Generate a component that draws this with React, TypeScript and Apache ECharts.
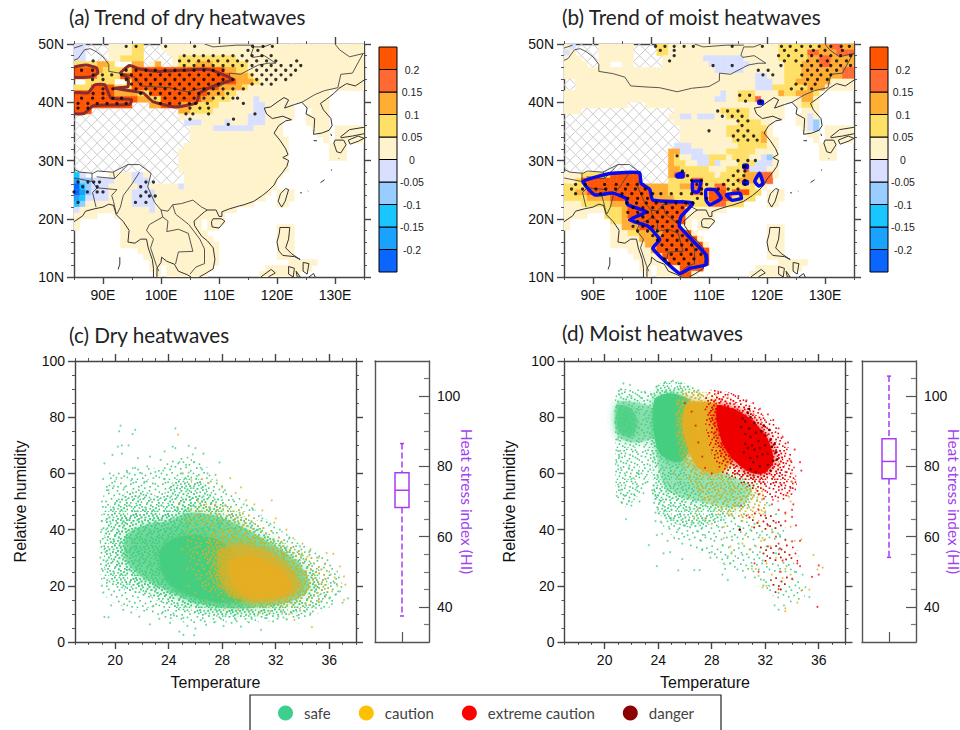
import React, { useEffect, useRef } from "react";
import * as echarts from "echarts";

const binCodes = ["e", "d", "c", "b", "a", "p", "q", "r", "s", "t"];
const binColors = ["#0A66FF", "#19A3FF", "#1AC6FF", "#99CCFF", "#D9E0FF", "#FFF3CC", "#FFE066", "#FFAD33", "#FF6A33", "#FF5500"];
const binLows = [-0.25, -0.2, -0.15, -0.1, -0.05, 0, 0.05, 0.1, 0.15, 0.2];
const colorbarTicks = [-0.2, -0.15, -0.1, -0.05, 0, 0.05, 0.1, 0.15, 0.2];

const rowsA = ["2a4x4p2q3x35p","2a4x4p2q4x34p","2a2.2x2p4q3x2x1p10q22p","4q2r1q3.2r1x1p1r2x1p3q3r6q20p","4t1r5q16t2r2q20p","3t1s1q3q19t3r1q19p","2.2q3q2.1q18t3r1q18p","3q4t3q15t4r1q20p","7t4r2q10t3r2q16p6.","11t2r2q7t2r3q4p1a12p6.","10t3x2r3t2r5q6p2a5p2.4p6.","3t15x2r1q3q7p2a5p3.3p6.","18x12p3a5p2.4p6.","19x3a4p1a3p3a3p4.4p6.","20x4p7a5p5.3p1.5p","20x16p6.2p1.5p","20x17p6.1p1.5p","19x18p7.3p3.","18x19p7.3p3.","18x19p7.3p3.","18x19p13.","18x19p13.","1c1a4.4p2a1p6x17p14.","1d2b4a3p3a5x1.16p15.","1e1c1b3a5p2a5p1a16p15.","1e1d1b3a4p4a20p1.3p12.","1d1c1a3a4p4a19p2.3p12.","1c1b8p4a17p4.2p13.","1a12p1a14p22.","4p3.19p24.","1p7.14p1.3p24.","1p7.14p1.2p10.3p12.","8.15p12.3p12.","8.16p11.3p12.","8.17p10.3p12.","11.14p10.3p12.","12.13p10.3p12.","13.12p12.5p8.","13.2p1.8p9.8p9.","14.1p1.7p9.7p11."];
const rowsB = ["1p1a4x6p4x2q19p7q2r2s2r","1a1p4x6p4x2q19p5q2s3r3s","3p3x6p5x7p7a6p5q2r2s4r","4p2x2p2.2p5x8p7a6p3q3r2s4r","26p5a7p3q7r2s","33p2a3p3q7r2s","2x31p3a2p2q6r4p","2x31p3a6q3r5p","27p1a2p3q4p1r2q3r1q6.","26p2a2p3q1s7p2r1p6.","11p3x24p2.1p2q1p6.","3p16x8p5q6p3.3p6.","18x2p2a1p3a2p4q6p2.2p1a1p6.","19x11p4q2p4.2p1a1b6.","20x8p7q1p5.1p1a1b1.5p","20x8p6q1r1p6.2p1.5p","20x9p5q1r2p6.1p1.5p","19x3a8p5q2p7.3p3.","18x2r4a4p5q4p7.3p3.","18x1r1q2p3a3q1p3q2p1a1b1p7.3p3.","18x1r2q2p2a1q1a3p3q3a1p13.","18x2r3q2q3p3q1s3a2p13.","3p5q5t5x1r2s5q1p4q3r2s1p13.","2p1q10t5x4q2s6q3r1q2s14.","4q10t4r2q2r2s2q2s5q2p15.","2q2r11t3r4q2s1q3t1q3t2q1.3p12.","4q4r7t4r6q4t4q2.3p12.","3p5q3r11t3q3s3q4.2p13.","7p3q1r10t7p22.","4p3.3q1r10t5p24.","1p7.2q2r9t1p1.3p24.","1p7.2p3r7t2p1.2p10.3p12.","8.3p2q4r5t1p12.3p12.","8.5p3r7t1p11.3p12.","8.6p2r8t1p10.3p12.","11.4p1r9t10.3p12.","12.5p8t10.3p12.","13.5p7t12.5p8.","13.2p1.4p4t9.8p9.","14.1p1.4p2t1p9.7p11."];

const stippleA: [number, number[]][] = [
  [49.6,[94,95.7,100.8,105.8,115.8,117.6,119.2]],[48.9,[115,116.7]],
  [48,[104,105.7,107.3,109,110.7,112.4,114,115.7,117.4,119]],
  [47.1,[88.3,103.2,104.8,106.5,108.2,109.8,111.5,113.2,114.8,116.5,118.2,119.8,123.4]],
  [46.3,[104,105.7,107.3,109,110.7,112.4,114,115.7,117.4,119,120.7,122.4,124.1]],
  [45.5,[86.3,88.2,94,95.7,97.4,99,100.7,102.4,104,105.7,107.4,109,110.7,116.5,118.2,119.8,121.5,123.2]],
  [44.7,[88.3,89.9,91.5,93.2,94.9,96.5,98.2,99.9,101.5,103.2,104.9,106.5,108.2,109.9,115.7,117.4,119,120.7,122.4]],
  [43.9,[88.2,90,94,95.7,97.4,99,100.7,102.4,104,105.7,107.4,109,110.7,112.4,116.5,118.2,119.8,121.5]],
  [43.1,[94.9,96.5,98.2,99.9,101.5,103.2,104.9,106.5,108.2,109.9,115.7,117.4,119]],
  [42.3,[90,91.7,95.7,97.4,99,100.7,102.4,104,105.7,107.4,109,110.7,112.4,114.2]],
  [41.5,[88.3,90,96.5,98.2,99.9,101.5,103.2,104.9,106.5,108.2,109.9,111.5]],
  [40.7,[86.3,88.2,90,91.7,93.2,99,100.7,102.4,104,105.7,107.4,109,110.7,112.4,113.2]],
  [39.8,[85.7,87.4,89,90.7,92.4,94,99.9,101.5,103.2,104.9,106,108,114.2]],
  [39,[85.7,87.4,105,106.7,108.2]],[38,[104.3,105.5,108.2,116.2]],[37.1,[105,112.5]],[36.2,[111.6]],
  [26.3,[85.7,87.4,88.4,89.4,97.4,98.7]],[25.5,[86.5,89,96.5]],[24.6,[85,87.3,89,90,97.4]],
  [23.9,[96.5,98,99]],[22.8,[85.7,95.6,97.4]],
];
const stippleB: [number, number[]][] = [
  [49.6,[100.8,102.4,104,105.7,107.3,114,119.2,122.5,124,126,127.5,129,131,132.8,134.2]],
  [48.9,[101.6,104,123,125,128,130,133]],[48,[104,122,123.7,126,127.7,129.3,131,132.7,134.4]],
  [47.1,[103.2,123,125,127,128.7,130.4,132,133.7]],
  [46.3,[110.7,114,122.4,126,127.7,129.3,131,132.7,134.4]],
  [45.5,[118.5,120.2,127,128.7,130.4,132]],[44.7,[119.3,121,126,127.7,129.3,131]],
  [43.9,[127,128.7,130.4]],[43.1,[125,126.6,128.3]],[42.3,[124.2,126,127.7]],
  [41.2,[115.3,117]],[40.2,[116.3,118.9]],[38.5,[111.5,113.2,115]],[37.6,[112.3,114,115.7]],
  [36.8,[115,116.7]],[36,[115.7]],[35.1,[110,115,116.7]],[34.2,[114.2,116,117.7]],[33.5,[115,116.7,118.3]],
  [30.8,[104.5]],[30,[115,116.7,118]],[29,[116,116.3]],[28.2,[105.4,115,116.2]],[27.4,[106.3,114.2,116]],
  [26.6,[107,108.7,113.3,115,116.2]],[25.9,[87,88.7,92,94,96,97.6,107.9,109.6,112.5,114.2,116.2]],
  [25.1,[86.3,88.2,90.5,92.2,93.9,95.6,97.3,99,108.7,111.6,113.3,115]],
  [24.3,[87,91.3,95,96.7,98.4,100.3,101.7,103.5,105.2,107,108.7]],
  [23.5,[96,97.7,99.4,108,109.6]],[22.7,[95.8,97.5,99.2,100.9,102.6,104.3,106,107.2]],
  [21.9,[96.9,98.6,100.3,102,103.7,105.4]],[21.1,[96,97.7,99.4,101.1,102.8,104.5]],
  [20.3,[98.6,100.3,102,103.7]],[19.5,[97.7,99.4,101.1,102.8,104.5]],[18.7,[96.9,98.6,100.3,102,103.7]],
  [17.9,[97.7,99.4,101.1,102.8,104.5]],[17.1,[100.3,102,103.7,105.4]],[16.3,[101.1,102.8,104.5,106.2]],
  [15.5,[101.9,103.6,105.3,107]],[14.7,[102.7,104.4,106.1,107.8]],[13.9,[103.5,105.2,106.9,108.6]],
  [13.1,[102.3,104,105.7,107.4]],[12.3,[103.1,104.8,106.5]],
];

const contoursA = [
  [[85,46],[87.1,46.4],[88.9,45.9],[89.1,45],[88,44.4],[85,44.3]],
  [[85,41.6],[87.4,41.6],[88.6,43],[90.3,43],[91.4,40.7],[94.9,40.5],[94.6,39.6],[88.3,39.4],[86.8,38.1],[85,38.1]],
  [[93,45],[94.6,46.3],[96.3,45.7],[99.8,45.3],[105.5,45.6],[108.4,45.6],[112.4,43.9],[109.5,43],[106.7,41.6],[106.1,39.9],[102.4,39.2],[98.6,40.1],[96.9,41.6],[92,42.4],[94.3,42.7],[94.3,44.2]],
];
const contoursB = [
  [[88.3,26.4],[93.2,27.8],[98,27.9],[98.3,26.1],[99.8,25],[100.3,23.2],[107.2,22.7],[105.2,20.4],[104.9,18.7],[109.5,13.8],[109.5,12.1],[106.7,11.5],[104.9,10.6],[100.3,14.9],[101.5,16.4],[99.5,18.7],[96.3,19.8],[99.2,21.2],[96,22.4],[95.7,23.5],[93.4,24.4],[90.3,24.1]],
  [[104.4,27.5],[105.5,27.9],[105.5,27.2],[104.5,27.2]],
  [[107.2,26.4],[108.6,26.4],[108.1,24.6],[107.2,24.7]],
  [[109.5,25],[111,25],[112.1,23.5],[110.1,22.4],[109.5,23.2]],
  [[113,24.1],[115.3,24.4],[115.6,23.5],[113.9,23.2]],
  [[118.7,27.8],[119.3,26.1],[118.6,25.6],[117.9,26.4]],
  [[116,29.2],[116.6,29.2],[116.6,28.8],[116,28.8]],
  [[116,26.4],[116.6,26.4],[116.6,26],[116,26]],
  [[118.6,40.2],[119.2,40.2],[119.2,39.8],[118.6,39.8]],
];

const coastlines = [
  [[85,19.5],[86.5,20.5],[87,21.3],[88.5,21.7],[90,22],[91,22.5],[91.8,22.3],[92.3,20.7],[93.5,19.5],[94.5,18],[94.3,16],[95.5,15.8],[96.5,16.5],[97.5,16.5],[97.8,15],[98.5,13],[98.7,11.5],[98.7,10]],
  [[99.3,10],[99.3,11.5],[100,12.5],[100.1,13.4],[101,12.7],[102.3,12.2],[103,11],[104.5,10.4],[105.2,10]],
  [[106.6,10],[107.5,10.5],[109,11.4],[109.3,13],[109,15],[108,16.2],[107,17],[105.8,18.8],[105.7,19.6],[106.7,20.5],[107.5,21.2],[108,21.5],[109.5,21.5],[110,20.4],[110.5,20.4],[110.5,21.2],[111.8,21.7],[113.5,22.2],[114.3,22.4],[116,23],[117.5,24],[118.5,24.8],[119.5,25.8],[120,26.8],[121,28],[121.7,29],[122,30],[121,30.5],[121.9,31],[121.5,32],[120.5,33.5],[119.5,34.7],[120.3,36],[121.5,36.8],[122.5,37],[121,37.6],[119.2,37.2],[118.2,38],[117.8,39],[118.9,39.2],[120,40],[121.2,40.8],[122,40.4],[121.3,39],[123,39.6],[124.3,40],[125.2,39],[125,38],[126.5,37.2],[126.4,35.5],[126.3,34.5],[127.7,34.7],[129,35.2],[129.5,36],[129.3,37.2],[128,38.7],[127.5,39.8],[128.5,40.5],[129.8,41.5],[130.7,42.4],[132,43.2],[133.5,42.8],[135,43.8]],
  [[130.9,34],[132.5,35.3],[135,35.7]],[[135,34.6],[133,34.2],[131,33.9]],
  [[130,33.5],[131.5,33.5],[131.9,32.7],[131,31.3],[130.3,31.5],[129.8,33],[130,33.5]],
  [[132.3,33.5],[134,34.2],[135,33.8],[134,33.3],[132.6,32.8],[132.3,33.5]],
  [[121.5,25.2],[122,25],[121.4,23],[120.8,22],[120.2,23],[120.6,24.3],[121.5,25.2]],
  [[109,20],[110.4,20],[111,19.6],[110,18.4],[108.8,18.6],[108.7,19.5],[109,20]],
  [[120.5,18.5],[122.2,18.5],[122,16.5],[121.5,15],[122.5,14],[124,13],[123,13.5],[121,13.7],[120.3,14.5],[120,16],[120.4,17.5],[120.5,18.5]],
  [[122,11.8],[123,11.5],[122.8,10],[122,10.5],[122,11.8]],[[124.5,12.5],[125.5,12.3],[125.2,10.5],[124.5,11],[124.5,12.5]],
  [[123.3,11],[124,10],[123.5,10],[123.3,11]],[[117.2,10],[119,11.3],[119.7,10.7],[118.5,10]],[[125.5,10],[126.3,10.6],[126.6,10]],
  [[126.3,33.4],[126.9,33.4]],[[129.3,34.6],[129.4,34.2]],[[127.5,26.2],[128.2,26.7]],[[124,24.5],[124.3,24.4]],[[125.3,24.8],[125.4,24.7]],[[129.3,28.3],[129.5,28.4]],[[130.6,30.4],[130.7,30.3]],
  [[92.9,13.4],[92.9,12.2],[92.6,11.3]],
];
const borders = [
  [[85,47.2],[85.7,47.5],[86.8,49],[87.8,49.2],[88.8,48.7],[90,47.8],[91,46.5],[91,45.3],[93.5,44.9],[95.5,44.3],[96.5,42.8],[99.5,42.6],[101.5,42.5],[104.5,41.8],[107,42.4],[110,42.7],[111.8,43.7],[111.8,45],[113.7,44.8],[116,46],[116.8,46.4],[118.5,46.7],[119.8,46.7],[117.8,48],[115.8,47.7],[115.5,48.1],[116,49.5],[117.7,49.5],[119,50]],
  [[107.5,50],[109,49.5],[113,49.8],[116,49.8]],[[85,49.3],[86.5,49.8]],
  [[124.3,40],[126.5,41.3],[128.2,42],[130.5,42.5],[131,44.8],[133,45],[134.8,48.3]],[[135,48.4],[132.5,47.8],[130.8,49],[130,50]],
  [[85,28.5],[86,28],[88.3,27.8],[89,28.2],[91.7,28],[94.3,29.3],[96.3,29.3],[98.3,27.8],[97.7,25.5],[98.9,22.8],[100,21.5],[101.2,21.3],[102,22.4],[103.5,22.6],[105.5,23.2],[107,22],[108,21.5]],
  [[85,27],[88.1,26.4],[88.1,27.8]],[[88.9,27.2],[92,26.9],[91.8,28]],[[94.3,29.3],[92,26.9]],
  [[88.1,26.4],[89,25.3],[88.2,24.5],[88.8,22]],[[89,25.3],[92.4,25],[91.5,24],[91.8,23],[92.3,20.8]],
  [[96.3,28],[95,26],[93.5,24],[93,22],[92.4,20.8]],
  [[100,21.5],[100.3,20.3],[98,19],[97.5,18],[98.7,16.5],[98.2,15],[99.2,12],[99.6,11]],
  [[100.3,20.3],[101.2,19.6],[101,17.8],[103,18.2],[104.7,17.5],[105.5,14.4],[103,14.3],[102.5,12.2]],
  [[102,22.4],[102.5,20.8],[104.8,19],[106.7,16.5],[107.5,14.8],[107.5,12.3],[106,11.7],[105,10.5]],
];

/* Outlines of the saturated parts of the clouds */
const densityCGreen = [
  [[19,47],[19.5,58],[21,62],[23,62],[25,66],[26.5,64],[28,56],[30,49],[32,41],[34,35],[36,30],[37,20],[36.5,14],[34.5,9],[32,7.5],[28,7],[25,7],[22,11],[19.5,15],[18.9,25]],
  [[19.4,46],[20.4,52],[21.8,54],[23.4,52],[24.6,58],[26.2,58],[27.5,52],[29,47],[30.5,42],[32,37],[33.5,33],[35,27],[36,20],[35.5,14],[34,11],[32,9.5],[30,9],[28,9],[26,10],[24,13],[22,17],[20.5,19],[19.3,24],[19.2,35]],
  [[20,42],[21.5,47],[24,47],[25.5,52],[27.5,49],[29.5,44],[31,39],[33,33],[34.5,27],[35.3,19],[33.8,13],[31,11],[28.5,10.5],[26,12],[24,15],[22,19],[20.2,25]],
  [[20.8,38],[22.5,42],[24,43],[25.5,46],[27.5,45],[29.5,41],[31,37],[33,31],[34.2,25],[34.5,19],[33.2,14.5],[31,12.5],[28.5,12],[26,14],[24,18],[22,23],[20.8,29]],
  [[23.4,33],[24.5,37],[26,38],[27.8,36],[29,31],[30,24],[30,15.5],[28,14],[26.2,15.5],[24.5,19],[23.5,25]],
];
const densityCOrange = [
  [[25.3,44],[26.5,50],[29,48],[31,42],[33,35],[35,29],[36,19],[34.3,13],[31.5,12],[29.5,13],[27,17],[25.6,28]],
  [[27,38],[29.5,40],[31,37],[33,31],[34.6,23],[33.8,15],[31,13.5],[29,15],[27.2,22]],
  [[27.8,33],[29.6,35],[31.4,32.5],[33.2,26],[33.8,19],[32.4,15],[30,14.5],[28.4,17.5],[27.7,25]],
  [[28.7,29],[30,30.5],[31.6,28],[32.9,23],[33,18],[31.8,16],[30,16],[29,19],[28.5,25]],
];
const densityDGreen = [
  [[23.7,60],[23.8,46],[25,38],[27,32],[30,25],[32,18],[34,14],[35,17],[34,30],[33,45],[31,56],[28,62]],
  [[20.9,89],[22.2,90],[23.7,88],[23.8,70],[23.5,60],[22.8,54],[21.6,48],[20.9,52],[20.8,70]],
  [[20.9,85],[22,85.5],[23.6,83],[23.7,73],[22,71],[20.9,74]],
  [[21,84],[22,83],[22.4,78],[22,73],[21,75]],
  [[23.7,90],[25,93],[26.5,91],[28.5,84],[30.5,72],[31.5,58],[30.5,48],[28,42],[26,41],[24,46],[23.6,60]],
  [[24,72],[26,66],[29,60],[31,55],[30,48],[27,50],[24.5,55]],
  [[23.7,86],[25,88.5],[26.5,85],[26.5,70],[25.6,64],[24,68]],
];
const densityDOrange = [
  [[25.5,88],[27,89],[28.5,87],[29.5,70],[31.5,58],[32,46],[30,44],[27.5,50],[26,60],[25.4,72]],
  [[26.2,85],[27.3,85.5],[28.5,84],[28.6,72],[29.5,65],[28.5,60],[27,62],[26.3,68],[25.8,78]],
];
const densityDRed = [
  [[31,52],[33,44],[34.5,30],[33,16],[32,28],[31,40],[30.5,48]],
  [[27.6,89],[29.5,88.5],[31.2,84],[33,76],[34,66],[34.3,54],[33,50],[31.5,53],[30,57],[28.5,61],[27.6,75]],
  [[28,87],[29.5,86],[31,82],[32.5,74],[33.3,66],[33.4,58],[32,56],[30.5,58],[29,63],[28,75]],
  [[28.4,84],[29.6,83],[31,79],[32.2,72],[32.6,64],[31.8,60],[30.8,60.5],[29.6,65],[28.7,72]],
];

/* Irregular dots of one tile of the speckle fills, hand-placed */
const speckleDots = [[3,5],[11,2],[19,7],[27,1],[36,4],[44,8],[7,12],[15,14],[24,11],[31,15],[40,13],[46,17],[2,20],[10,23],[18,19],[26,22],[34,20],[43,24],[6,29],[14,31],[22,27],[30,30],[38,28],[45,33],[1,37],[9,39],[17,36],[25,40],[33,37],[41,41],[5,45],[13,46],[21,44],[29,47],[37,44],[46,43],[7,3],[15,9],[23,3],[32,9],[40,2],[1,11],[11,17],[20,13],[28,18],[36,11],[43,15],[5,24],[14,25],[22,21],[31,25],[39,22],[47,27],[3,33],[11,34],[19,32],[27,35],[35,32],[42,36],[7,42],[16,41],[24,46],[32,42],[39,47],[45,38],[9,7],[17,3],[25,7],[34,1],[42,5],[4,15],[13,11],[21,16],[29,12],[38,16],[45,11],[0,26],[8,27],[16,23],[24,25],[33,28],[41,19],[4,39],[12,37],[20,39],[28,33],[36,39],[44,29],[9,46],[18,47],[26,43],[35,46],[43,46],[47,2],[2,8],[30,5],[38,8],[12,5],[6,18],[17,28]];

const boxC = [37.4, 68.3, 73.2, 78.2, 86.5];
const boxD = [54.1, 76.5, 81.4, 87.9, 105.7];
const legendNames = ["safe", "caution", "extreme caution", "danger"];
const seriesColors = ["#46CE80", "#E6AE20", "#EE0000", "#7A0000"];
const legendColors = ["#3CCF8E", "#FFC000", "#FF0000", "#8B0000"];

const safeC = [[20.4,77],[20.3,75],[21.5,75.5],[21.3,74],[24.5,76],[20.5,70],[21,70],[20.2,69.5],[19.8,66.6],[19.2,63.6],[20.5,67],[21.7,65.4],[22.6,66],[23.4,64.8],[24.3,69.5],[24.5,69],[25.5,69.8],[26,69],[23.7,67.8],[26.6,67],[25.8,66.8],[27.8,63.9],[27.5,59.5],[19.1,58],[19.6,60],[20.1,58.5],[20.9,60.4],[21.5,62],[22,60],[22.4,62.5],[23,60.5],[23.6,61],[24.2,62.5],[24.8,64],[25.3,63],[25.9,64],[26.4,62],[26.9,60],[24.9,60],[25.5,60.3],[26.1,59],[21.2,57.5],[22.2,57],[19.5,54],[19,50],[19.3,48],[19.9,55.5],[20.7,55],[23,56.3],[23.7,58],[28.2,54],[28.8,50.7],[29.6,49],[30.3,47],[31,44],[31.6,42],[32.3,40],[33,36.8],[33.8,34],[34.5,32],[35.1,30],[35.6,26.5],[36.1,24],[36.4,21],[36.8,18],[37.4,15.5],[37,14],[36.2,13.5],[35.4,12],[34.6,10.3],[33.6,9.4],[32.8,8.1],[31.8,7.3],[30.9,4.3],[30,7],[29.4,5.5],[28.7,6.8],[28.1,5.7],[27.4,7],[26.8,6.1],[26,4.8],[25.4,5.7],[24.8,3.7],[25.1,2.5],[25.9,2.4],[24.1,6.8],[23.3,8.2],[22.6,6.3],[21.8,9],[21.2,10.5],[20.6,11.4],[19.5,8.8],[19.2,8.9],[19.7,13],[19.1,17.6],[19,20],[19.4,22],[19,26],[18.9,30],[19.2,33],[18.9,36],[19,40],[19,43],[22.8,12.7],[23.5,10.2],[24.4,9.5],[25.1,8.6],[26.4,7.8],[27.9,8.2],[29,8],[30.2,8.2],[31.2,8.5],[32.2,9],[33.2,10.2],[34.2,10.8],[35,12.1],[36,15.5],[36.5,17],[33.9,31],[32.8,33.6],[31.8,38.8],[30.7,40.1],[29.3,46],[28,50.5]];
const cautionC = [[24.7,73.8],[31.7,50.4],[31.9,42.5],[36.3,31.4],[35.8,31.6],[36.8,26.9],[37.1,23.3],[37.2,20.4],[37.1,15],[34.7,5.3],[33.4,7.9],[28.6,58.3],[29.4,55],[25,60],[25.7,57.5],[26.5,58],[27,56.5],[27.6,57.5],[28,55],[29,53],[29.8,50.5],[30.4,49],[31,46.8],[32,44],[32.8,40],[33.3,37],[34,35],[34.6,33],[35.2,30],[35.7,28],[36,25],[36.4,23],[36.6,20],[36.2,18],[35.7,16],[35.2,14.5],[34.5,13],[33.8,11.8],[33,9.8],[32.5,10.6],[31.6,11],[30.8,10.4],[30,10.7],[29.2,11.5],[28.2,12],[27.5,13.6],[26.8,15],[26,17.5],[25.5,20],[25.4,26],[25,33],[24.9,38],[25.2,43],[25.5,47],[26.2,50],[26.8,49],[27.5,49],[24.8,49]];
const safeD = [[21.4,92],[21.9,91.5],[21.2,90],[21.1,88],[22,87.5],[23,89],[23.5,88],[22.7,87],[20.9,84],[20.8,78],[21,72],[21,68],[21.1,66],[20.9,64],[21.2,62],[21.5,60],[21.8,62],[22,58],[22.5,60],[21,56],[21.2,54],[20.9,52],[21.5,52],[22.2,52.5],[21.8,50],[21.3,49.5],[22,48.5],[22.6,50],[22.9,53],[21.6,43.7],[22.4,55],[23.2,57],[23.6,54],[23.8,52],[24.1,50.5],[23.7,49.5],[23.8,46],[23.8,43],[24.2,42.8],[24.8,41],[25,44],[25.5,40],[25.9,41.5],[26.2,38],[26.9,39.5],[27.2,36],[27.5,38],[24.9,32],[23.3,34.5],[24.4,31.5],[23.9,27],[25.8,29.5],[25.5,25.5],[26.7,25.6],[27.1,25.6],[27.9,30],[28,32],[28.9,28],[29,26],[29.4,28],[28.8,24],[29.2,22],[30,35],[30.3,31],[31,27],[30.5,23],[31.9,22],[32.3,20],[33,17.5],[32.7,13],[33,11.5],[33.4,13],[33.6,27],[34.2,25],[34.8,24],[35,19.5],[35.3,16],[28.2,36],[28.8,34.5],[29.5,37.5],[31.6,32],[31.8,29],[32.1,34],[32.8,31.5],[30.1,41],[30.9,40],[29.7,44],[28.2,47],[27.5,43],[26,47],[25,47],[24.5,46.8],[23.9,91],[24.5,92.5],[25.1,93],[25.7,92],[26.2,91],[27,89.5],[27.6,87],[24,89.5],[24.6,89],[25.5,90],[31.2,42],[31.6,38],[30.3,44.5],[30.8,48],[31.4,50.5],[32,46],[32.5,40],[33.1,38],[33,33],[28.5,41],[28.9,43.5],[27.3,40.7],[26.5,42.5],[25.8,35],[27.3,33],[29.2,30.5],[23.9,38],[24.3,38.5],[24.7,36],[25.2,37]];
const cautionD = [[25.2,60],[25.7,58],[26.3,52],[26.7,44.5],[27.5,44],[28,42],[28.9,41],[29.5,45],[30.3,43],[31,41],[31.5,43],[32,46.5],[32.5,39],[31.8,37],[30.5,38],[30.3,35],[30.9,33],[31.3,34],[31.7,36],[32,36.5],[32.4,34],[32.8,30],[33.2,25],[33.5,26],[33.9,24],[33.3,22.7],[32.5,24],[32.1,28],[31,26],[31.3,26],[31.5,23.5],[32.1,20],[31.8,19.4],[33.5,12],[33.5,11],[34.4,14],[34.7,18.3],[35.3,18.6],[36.3,26.5],[35.9,25.8],[35.6,31],[34.2,36],[34.7,36.5],[33.9,41],[33.5,45.5],[33.9,50],[33.7,52],[34,57],[34,60],[33,64],[27,88],[27.8,88.5],[28.3,88],[29.2,87],[25.8,90],[26.7,89],[28.5,45.5],[28.9,37],[29.4,34],[29.5,32],[27,47.5],[27.5,50.5]];
const extremeD = [[28.5,89],[29.2,88],[30,87.5],[30.6,86],[31.1,85],[31.6,83],[32.2,81],[32.6,79],[33,76],[33.3,73],[33.7,71],[34.2,68.5],[34.6,64],[34.7,61],[33.9,64.5],[33.5,60.5],[33.2,56],[33.9,54.8],[34.1,49],[34,47],[33.5,46],[33,47],[32.5,49],[31.9,51],[31.5,52.5],[32,45],[32.2,41.5],[32.8,42.5],[33.5,43],[34,44.5],[34.3,41.5],[34.6,36],[34,35.8],[33.5,36.3],[33,35],[33.1,33.3],[33.3,29],[34.4,28],[34.6,27],[34,22.5],[33.1,25],[33,18.8],[35.9,12.5],[36,27.3],[36,24],[35.5,23.2],[31.2,28],[31.5,25],[32.2,34],[32.8,37.5],[31.5,47],[30.6,45],[30.2,48.5],[28,60],[27.5,62],[27.3,66],[27,71],[26.8,77],[26.5,82],[26,85]];
const dangerD = [[30.8,83],[30.3,79.5],[30.5,78.5],[30.9,80],[31.2,78],[30.8,76],[30.5,74],[30.9,73],[31.3,74.5],[31.7,75],[32,73.5],[32.4,72],[31.5,71.5],[31,70],[30.5,70.5],[30.7,69],[31.2,68.5],[31.6,69],[32,70],[32.2,67],[32.6,64.5],[31.4,66],[30.9,65.5],[31.1,64],[31.6,62.5],[30.9,61.5],[32.2,63],[32.5,69.5],[32.7,70.5],[30.1,40],[31.9,77],[32.3,75.5],[32.8,67.5],[32.9,65],[30.2,76.5],[30.4,67.5],[31.8,66.8],[32.4,61],[31.3,60.5],[30.7,81.5]];

const LON = [85, 135], LAT = [10, 50];
const lonMajor = [90, 100, 110, 120, 130];
const lonMinor = [85, 90, 95, 100, 105, 110, 115, 120, 125, 130, 135];
const latMajor = [10, 20, 30, 40, 50];
const latMinor = [10,12,14,16,18,20,22,24,26,28,30,32,34,36,38,40,42,44,46,48,50];
const tMajor = [20, 24, 28, 32, 36];
const tMinor = [17,18,19,20,21,22,23,24,25,26,27,28,29,30,31,32,33,34,35,36,37,38];
const rhMajor = [0, 20, 40, 60, 80, 100];
const rhMinor = [0,5,10,15,20,25,30,35,40,45,50,55,60,65,70,75,80,85,90,95,100];
const hiMajor = [40, 60, 80, 100];
const hiMinor = [35,45,50,55,65,70,75,85,90,95,105];

const parseRow = (s: string) => {
  const out: string[] = [];
  for (const m of s.matchAll(/(\d+)([a-z.])/g)) for (let i = 0; i < +m[1]; i++) out.push(m[2]);
  return out;
};
const cellsOf = (rows: string[]) => {
  const out: number[][] = [];
  rows.forEach((row, r) => parseRow(row).slice(0, 50).forEach((ch, c) => {
    if (ch === ".") return;
    const code = ch === "x" ? -1 : binCodes.indexOf(ch);
    out.push([LON[0] + c, LAT[1] - 1 - r, code]);
  }));
  return out;
};
const stippleOf = (rows: [number, number[]][]) => rows.flatMap(([lat, lons]) => lons.map((lon) => [lon, lat]));

const TILE = 32;
const speckle = (color: string, count: number) => {
  const c = document.createElement("canvas");
  c.width = TILE; c.height = TILE;
  const ctx = c.getContext("2d")!;
  ctx.fillStyle = color;
  speckleDots.slice(0, count).forEach(([x, y]) => ctx.fillRect((x * 2) / 3, (y * 2) / 3, 1.6, 1.6));
  return { image: c.toDataURL(), repeat: "repeat", imageWidth: TILE, imageHeight: TILE };
};

const FRAME = "#444";
const tickFont = { fontFamily: "Liberation Sans", fontSize: 14, color: "#111" };
const gridBase = { outerBoundsMode: "none", containLabel: false };

function buildOption() {
  const grid: any[] = [], xAxis: any[] = [], yAxis: any[] = [], series: any[] = [];

  const frame = (rect: number[], xs: any, ys: any) => {
    const g = grid.length;
    const [left, top, width, height] = rect;
    grid.push({ ...gridBase, left, top, width, height });
    grid.push({ ...gridBase, left, top, width, height });
    const line = { show: true, onZero: false, lineStyle: { color: FRAME, width: 1.4 } };
    const hidden = { show: false, onZero: false };
    const tick = (vals: number[], length: number) => ({ show: true, customValues: vals, length, lineStyle: { color: FRAME, width: length > 5 ? 1.4 : 0.9 } });
    const xi = xAxis.length, yi = yAxis.length;
    const base = { type: "value", splitLine: { show: false } };
    for (const [pos, lab] of [["bottom", true], ["top", false]] as any) {
      xAxis.push({ ...base, gridIndex: g, position: pos, min: xs.min, max: xs.max, axisLine: line, axisTick: tick(xs.major, 7),
        axisLabel: lab ? { show: true, customValues: xs.major, formatter: xs.fmt, margin: 11, ...tickFont } : { show: false },
        ...(lab && xs.name ? { name: xs.name, nameLocation: "middle", nameGap: 32, nameTextStyle: { fontFamily: "Liberation Sans", fontSize: 16, color: "#111" } } : {}) });
      xAxis.push({ ...base, gridIndex: g + 1, position: pos, min: xs.min, max: xs.max, axisLine: hidden, axisTick: tick(xs.minor, 3), axisLabel: { show: false } });
    }
    for (const [pos, lab] of [["left", true], ["right", false]] as any) {
      yAxis.push({ ...base, gridIndex: g, position: pos, min: ys.min, max: ys.max, axisLine: line, axisTick: tick(ys.major, 7),
        axisLabel: lab ? { show: true, customValues: ys.major, formatter: ys.fmt, margin: 10, ...tickFont } : { show: false },
        ...(lab && ys.name ? { name: ys.name, nameLocation: "middle", nameGap: 47, nameRotate: 90, nameTextStyle: { fontFamily: "Liberation Sans", fontSize: 16, color: "#111" } } : {}) });
      yAxis.push({ ...base, gridIndex: g + 1, position: pos, min: ys.min, max: ys.max, axisLine: hidden, axisTick: tick(ys.minor, 3), axisLabel: { show: false } });
    }
    series.push({ type: "scatter", xAxisIndex: xi + 1, yAxisIndex: yi + 1, data: [], silent: true });
    return { xAxisIndex: xi, yAxisIndex: yi };
  };

  const polygons = (ax: any, polys: number[][][], styles: any[], z: number, name: string) => {
    series.push({ type: "custom", name, ...ax, clip: true, silent: true, z, coordinateSystem: "cartesian2d",
      data: polys.map((_, i) => [i]),
      renderItem: (_p: any, api: any) => {
        const i = api.value(0);
        const s = styles[i];
        return { type: "polygon", shape: { points: polys[i].map((v) => api.coord(v)), smooth: s.smooth ?? 0.3 },
          style: { fill: s.fill, opacity: s.opacity ?? 1, stroke: s.stroke, lineWidth: s.lineWidth, lineJoin: "round", ...(s.blur ? { shadowBlur: s.blur, shadowColor: s.fill } : {}) } };
      } });
  };

  const lines = (ax: any, lst: number[][][], stroke: string, lineWidth: number, z: number, name: string) => {
    series.push({ type: "custom", name, ...ax, clip: true, silent: true, z, coordinateSystem: "cartesian2d",
      data: lst.map((_, i) => [i]),
      renderItem: (_p: any, api: any) => ({ type: "polyline", shape: { points: lst[api.value(0)].map((v) => api.coord(v)) }, style: { fill: "none", stroke, lineWidth, lineJoin: "round" } }) });
  };

  const mapPanel = (left: number, cbLeft: number, rows: string[], stipple: any, contours: number[][][], contourColor: string, contourWidth: number) => {
    const ax = frame([left, 44, 290, 233],
      { min: LON[0], max: LON[1], major: lonMajor, minor: lonMinor, fmt: (v: number) => v + "E" },
      { min: LAT[0], max: LAT[1], major: latMajor, minor: latMinor, fmt: (v: number) => v + "N" });
    series.push({ type: "custom", name: "trend", ...ax, clip: true, silent: true, z: 1, coordinateSystem: "cartesian2d", data: cellsOf(rows),
      renderItem: (_p: any, api: any) => {
        const lon = api.value(0), lat = api.value(1), code = api.value(2);
        const a = api.coord([lon, lat + 1]), b = api.coord([lon + 1, lat]);
        if (code < 0) {
          const rising = (lon + lat) % 2 === 0;
          return { type: "line", shape: { x1: a[0], y1: rising ? b[1] : a[1], x2: b[0], y2: rising ? a[1] : b[1] }, style: { stroke: "#CCCCCC", lineWidth: 1 } };
        }
        return { type: "rect", shape: { x: a[0], y: a[1], width: b[0] - a[0], height: b[1] - a[1] }, style: { fill: binColors[code], stroke: binColors[code], lineWidth: 0.5 } };
      } });
    lines(ax, coastlines, "#333", 1, 3, "coast");
    lines(ax, borders, "#444", 0.9, 3, "border");
    polygons(ax, contours, contours.map(() => ({ fill: "none", stroke: contourColor, lineWidth: contourWidth, smooth: 0.15 })), 4, "significant");
    series.push({ type: "scatter", name: "stipple", ...ax, z: 5, silent: true, clip: true, symbolSize: 3.3, itemStyle: { color: "#000" }, data: stippleOf(stipple) });

    const cg = grid.length;
    grid.push({ ...gridBase, left: cbLeft, top: 47, width: 18, height: 225 });
    const xi = xAxis.length, yi = yAxis.length;
    xAxis.push({ type: "value", gridIndex: cg, min: 0, max: 1, show: false });
    yAxis.push({ type: "value", gridIndex: cg, position: "right", min: -0.25, max: 0.25, axisLine: { show: false, onZero: false }, axisTick: { show: false }, splitLine: { show: false },
      axisLabel: { show: true, customValues: colorbarTicks, align: "center", margin: 15, fontFamily: "Liberation Sans", fontSize: 10.5, color: "#222", formatter: (v: number) => String(Math.round(v * 100) / 100) } });
    series.push({ type: "custom", name: "colorbar", xAxisIndex: xi, yAxisIndex: yi, silent: true, data: binLows.map((v, i) => [i, v]),
      renderItem: (_p: any, api: any) => {
        const low = api.value(1);
        const a = api.coord([0, low + 0.05]), b = api.coord([1, low]);
        return { type: "rect", shape: { x: a[0], y: a[1], width: b[0] - a[0], height: b[1] - a[1] }, style: { fill: binColors[api.value(0)], stroke: "#000", lineWidth: 1 } };
      } });
  };

  const points = (ax: any, idx: number, data: number[][], z: number) => {
    series.push({ type: "scatter", name: legendNames[idx], ...ax, z, silent: true, symbolSize: idx === 3 ? 2.6 : 2, itemStyle: { color: seriesColors[idx], opacity: idx === 3 ? 1 : 0.75 }, data });
  };

  /* ticks that point into the panel: a narrow grid whose right edge lies inside, drawing outward to the frame */
  const innerTicks = (right: number, length: number, vals: number[], color: string) => {
    const g = grid.length;
    grid.push({ ...gridBase, left: right - length - 10, top: 361, width: 10, height: 281 });
    const xi = xAxis.length, yi = yAxis.length;
    xAxis.push({ type: "value", gridIndex: g, min: 0, max: 1, show: false });
    yAxis.push({ type: "value", gridIndex: g, position: "right", min: 30, max: 110, splitLine: { show: false }, axisLine: { show: false, onZero: false },
      axisTick: { show: true, customValues: vals, length, lineStyle: { color, width: 1.2 } }, axisLabel: { show: false } });
    series.push({ type: "scatter", xAxisIndex: xi, yAxisIndex: yi, data: [], silent: true });
  };

  const boxPanel = (left: number, values: number[]) => {
    const g = grid.length;
    grid.push({ ...gridBase, left, top: 361, width: 54, height: 281 });
    const xi = xAxis.length, yi = yAxis.length;
    const line = { show: true, onZero: false, lineStyle: { color: "#555", width: 1.4 } };
    xAxis.push({ type: "category", gridIndex: g, position: "bottom", data: ["HI"], axisLine: line, axisTick: { show: true, alignWithLabel: true, inside: true, length: 10, lineStyle: { color: "#555", width: 1.2 } }, axisLabel: { show: false } });
    xAxis.push({ type: "category", gridIndex: g, position: "top", data: ["HI"], axisLine: line, axisTick: { show: false }, axisLabel: { show: false } });
    yAxis.push({ type: "value", gridIndex: g, position: "right", min: 30, max: 110, splitLine: { show: false }, axisLine: line,
      axisTick: { show: false },
      axisLabel: { show: true, customValues: hiMajor, margin: 8, ...tickFont },
      name: "Heat stress index (HI)", nameLocation: "middle", nameRotate: -90, nameGap: 30, nameMoveOverlap: false, nameTextStyle: { fontFamily: "Lato", fontSize: 15.5, color: "#A040F0" } });
    yAxis.push({ type: "value", gridIndex: g, position: "left", min: 30, max: 110, splitLine: { show: false }, axisLine: line, axisTick: { show: false }, axisLabel: { show: false } });
    series.push({ type: "custom", name: "Heat stress index", xAxisIndex: xi, yAxisIndex: yi, silent: true, z: 3, data: [[0, ...values]],
      renderItem: (_p: any, api: any) => {
        const x = api.coord([0, 0])[0];
        const y = (i: number) => api.coord([0, api.value(i)])[1];
        const [lo, q1, med, q3, hi] = [1, 2, 3, 4, 5].map(y);
        const stroke = "#A83CF5";
        const solid = { stroke, lineWidth: 1.5, fill: "none" };
        const dash = { stroke, lineWidth: 1.5, lineDash: [6, 3] };
        const seg = (x1: number, y1: number, x2: number, y2: number, style: any) => ({ type: "line", shape: { x1, y1, x2, y2 }, style });
        return { type: "group", children: [
          seg(x, hi, x, q3, dash), seg(x, q1, x, lo, dash),
          seg(x - 2, hi, x + 2, hi, solid), seg(x - 2, lo, x + 2, lo, solid),
          { type: "rect", shape: { x: x - 7, y: q3, width: 14, height: q1 - q3 }, style: solid },
          seg(x - 7, med, x + 7, med, solid),
        ] };
      } });
    innerTicks(left + 54, 10, hiMajor, "#555");
    innerTicks(left + 54, 5, hiMinor, "#777");
  };

  mapPanel(74, 379, rowsA, stippleA, contoursA, "#8B2B2B", 3);
  mapPanel(564, 870, rowsB, stippleB, contoursB, "#0A0AEE", 3.5);

  const scatterFrame = (left: number) => frame([left, 361, 281, 281],
    { min: 17, max: 38, major: tMajor, minor: tMinor, name: "Temperature" },
    { min: 0, max: 100, major: rhMajor, minor: rhMinor, name: "Relative humidity" });

  const g = seriesColors[0], o = seriesColors[1], r = seriesColors[2];
  const axC = scatterFrame(75);
  points(axC, 0, safeC, 2);
  polygons(axC, densityCGreen, [
    { fill: speckle(g, 40) }, { fill: speckle(g, 100) }, { fill: speckle(g, 100) },
    { fill: g, opacity: 0.55, blur: 12 }, { fill: g, opacity: 0.95, blur: 10 },
  ], 3, "safe density");
  polygons(axC, densityCOrange, [
    { fill: speckle(o, 45) }, { fill: speckle(o, 100) }, { fill: o, opacity: 0.5, blur: 10 }, { fill: o, opacity: 0.95, blur: 10 },
  ], 4, "caution density");
  points(axC, 1, cautionC, 5);

  const axD = scatterFrame(564.5);
  points(axD, 0, safeD, 2);
  polygons(axD, densityDGreen, [
    { fill: speckle(g, 30) }, { fill: speckle(g, 70) }, { fill: g, opacity: 0.4, blur: 8 }, { fill: g, opacity: 0.6, blur: 8 },
    { fill: speckle(g, 100) }, { fill: g, opacity: 0.35, blur: 12 }, { fill: g, opacity: 0.95, blur: 8 },
  ], 3, "safe density");
  polygons(axD, densityDOrange, [{ fill: speckle(o, 80) }, { fill: o, opacity: 0.95, blur: 10 }], 4, "caution density");
  polygons(axD, densityDRed, [
    { fill: speckle(r, 18) }, { fill: speckle(r, 70) }, { fill: speckle(r, 100) }, { fill: r, opacity: 1, blur: 8 },
  ], 5, "extreme caution density");
  points(axD, 1, cautionD, 6);
  points(axD, 2, extremeD, 6);
  points(axD, 3, dangerD, 7);

  boxPanel(375, boxC);
  boxPanel(862, boxD);

  const titleStyle = { fontFamily: "Lato", fontSize: 20.7, fontWeight: "normal", color: "#222" };
  const title = [
    { text: "(a) Trend of dry heatwaves", left: 69, top: 6 },
    { text: "(b) Trend of moist heatwaves", left: 562, top: 6 },
    { text: "(c) Dry heatwaves", left: 69, top: 324 },
    { text: "(d) Moist heatwaves", left: 562, top: 322 },
  ].map((t) => ({ ...t, padding: 0, textStyle: titleStyle }));

  return {
    animation: false, backgroundColor: "#fff", title, grid, xAxis, yAxis, series,
    legend: { left: 278, top: 705.5, padding: 0, orient: "horizontal", itemWidth: 15, itemHeight: 15, itemGap: 28, selectedMode: false,
      textStyle: { fontFamily: "Lato", fontSize: 15, color: "#444", padding: [0, 0, 0, 6] },
      data: legendNames.map((name, i) => ({ name, icon: "circle", itemStyle: { color: legendColors[i], opacity: 1 } })) },
    graphic: [{ type: "rect", silent: true, z: -1, shape: { x: 250, y: 695, width: 471, height: 60 }, style: { fill: "#fff", stroke: "#222", lineWidth: 1.2 } }],
  };
}

export default function App() {
  const ref = useRef<HTMLDivElement>(null);
  useEffect(() => {
    const chart = echarts.init(ref.current!, undefined, { renderer: "svg" });
    chart.setOption(buildOption() as any);
    return () => chart.dispose();
  }, []);
  return <div ref={ref} style={{ position: "absolute", left: 0, top: 0, width: 960, height: 730, overflow: "hidden" }} />;
}
